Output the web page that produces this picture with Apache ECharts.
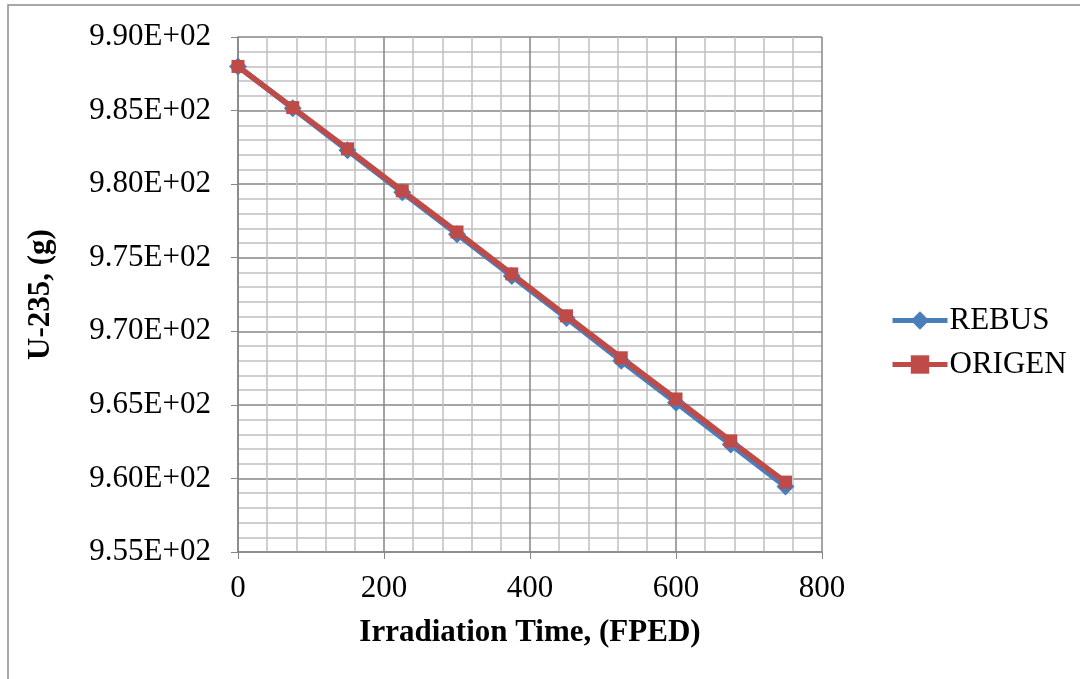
<!DOCTYPE html>
<html><head><meta charset="utf-8">
<script src="https://cdn.jsdelivr.net/npm/echarts@6/dist/echarts.min.js"></script>
<style>html,body{margin:0;padding:0;background:#fff}#c{width:1080px;height:679px}</style>
</head><body><div id="c"></div>
<script>
var xValues = [0, 75, 150, 225, 300, 375, 450, 525, 600, 675, 750];
var rebus  = [988.0, 985.15, 982.3, 979.45, 976.6, 973.75, 970.9, 968.0, 965.15, 962.3, 959.45];
var origen = [988.0, 985.2, 982.4, 979.55, 976.75, 973.9, 971.05, 968.2, 965.4, 962.55, 959.75];
var seriesNames = ['REBUS', 'ORIGEN'];
var yLabelFmt = function (v) { return (v / 100).toFixed(2) + 'E+02'; };

var chart = echarts.init(document.getElementById('c'), null, {renderer: 'canvas'});
var font = 'Liberation Serif';
function pairs(ys) { return xValues.map(function (x, i) { return [x, ys[i]]; }); }
chart.setOption({
  animation: false,
  backgroundColor: '#fff',
  textStyle: {fontFamily: font},
  graphic: [{type: 'rect', shape: {x: 8, y: 5, width: 1200, height: 800},
    style: {fill: 'none', stroke: '#8c8c8c', lineWidth: 1.5}, silent: true}],
  grid: {left: 238, top: 37, width: 584, height: 515, containLabel: false},
  legend: {
    orient: 'vertical', left: 885, top: 300, itemGap: 13,
    itemWidth: 55, itemHeight: 23,
    data: seriesNames,
    lineStyle: {width: 5},
    textStyle: {fontFamily: font, fontSize: 31, color: '#000', padding: [0, 0, 0, -3]}
  },
  xAxis: {
    type: 'value', min: 0, max: 800, interval: 200,
    name: 'Irradiation Time, (FPED)', nameLocation: 'middle', nameGap: 65,
    nameTextStyle: {fontFamily: font, fontSize: 31, fontWeight: 'bold', color: '#000'},
    axisLine: {show: true, lineStyle: {color: '#868686', width: 1.5}},
    axisTick: {show: true, length: 7, lineStyle: {color: '#868686'}},
    axisLabel: {fontFamily: font, fontSize: 31, color: '#000', margin: 21},
    splitLine: {show: true, lineStyle: {color: '#868686', width: 1.5}},
    minorTick: {show: false, splitNumber: 5},
    minorSplitLine: {show: true, lineStyle: {color: '#c0c0c0', width: 1.5}}
  },
  yAxis: {
    type: 'value', min: 955, max: 990, interval: 5,
    name: 'U-235, (g)', nameLocation: 'middle', nameGap: 182, nameRotate: 90,
    nameTextStyle: {fontFamily: font, fontSize: 31, fontWeight: 'bold', color: '#000'},
    axisLine: {show: true, lineStyle: {color: '#868686', width: 1.5}},
    axisTick: {show: true, length: 7, lineStyle: {color: '#868686'}},
    axisLabel: {fontFamily: font, fontSize: 31, color: '#000', margin: 27, formatter: yLabelFmt},
    splitLine: {show: true, lineStyle: {color: '#868686', width: 1.5}},
    minorTick: {show: false, splitNumber: 5},
    minorSplitLine: {show: true, lineStyle: {color: '#c0c0c0', width: 1.5}}
  },
  series: [
    {name: seriesNames[0], type: 'line', data: pairs(rebus), symbol: 'diamond', symbolSize: 18,
     itemStyle: {color: '#4a7ebb'}, lineStyle: {color: '#4a7ebb', width: 5.5}},
    {name: seriesNames[1], type: 'line', data: pairs(origen), symbol: 'rect', symbolSize: 13,
     itemStyle: {color: '#be4b48'}, lineStyle: {color: '#be4b48', width: 5.5}}
  ]
});
</script></body></html>
